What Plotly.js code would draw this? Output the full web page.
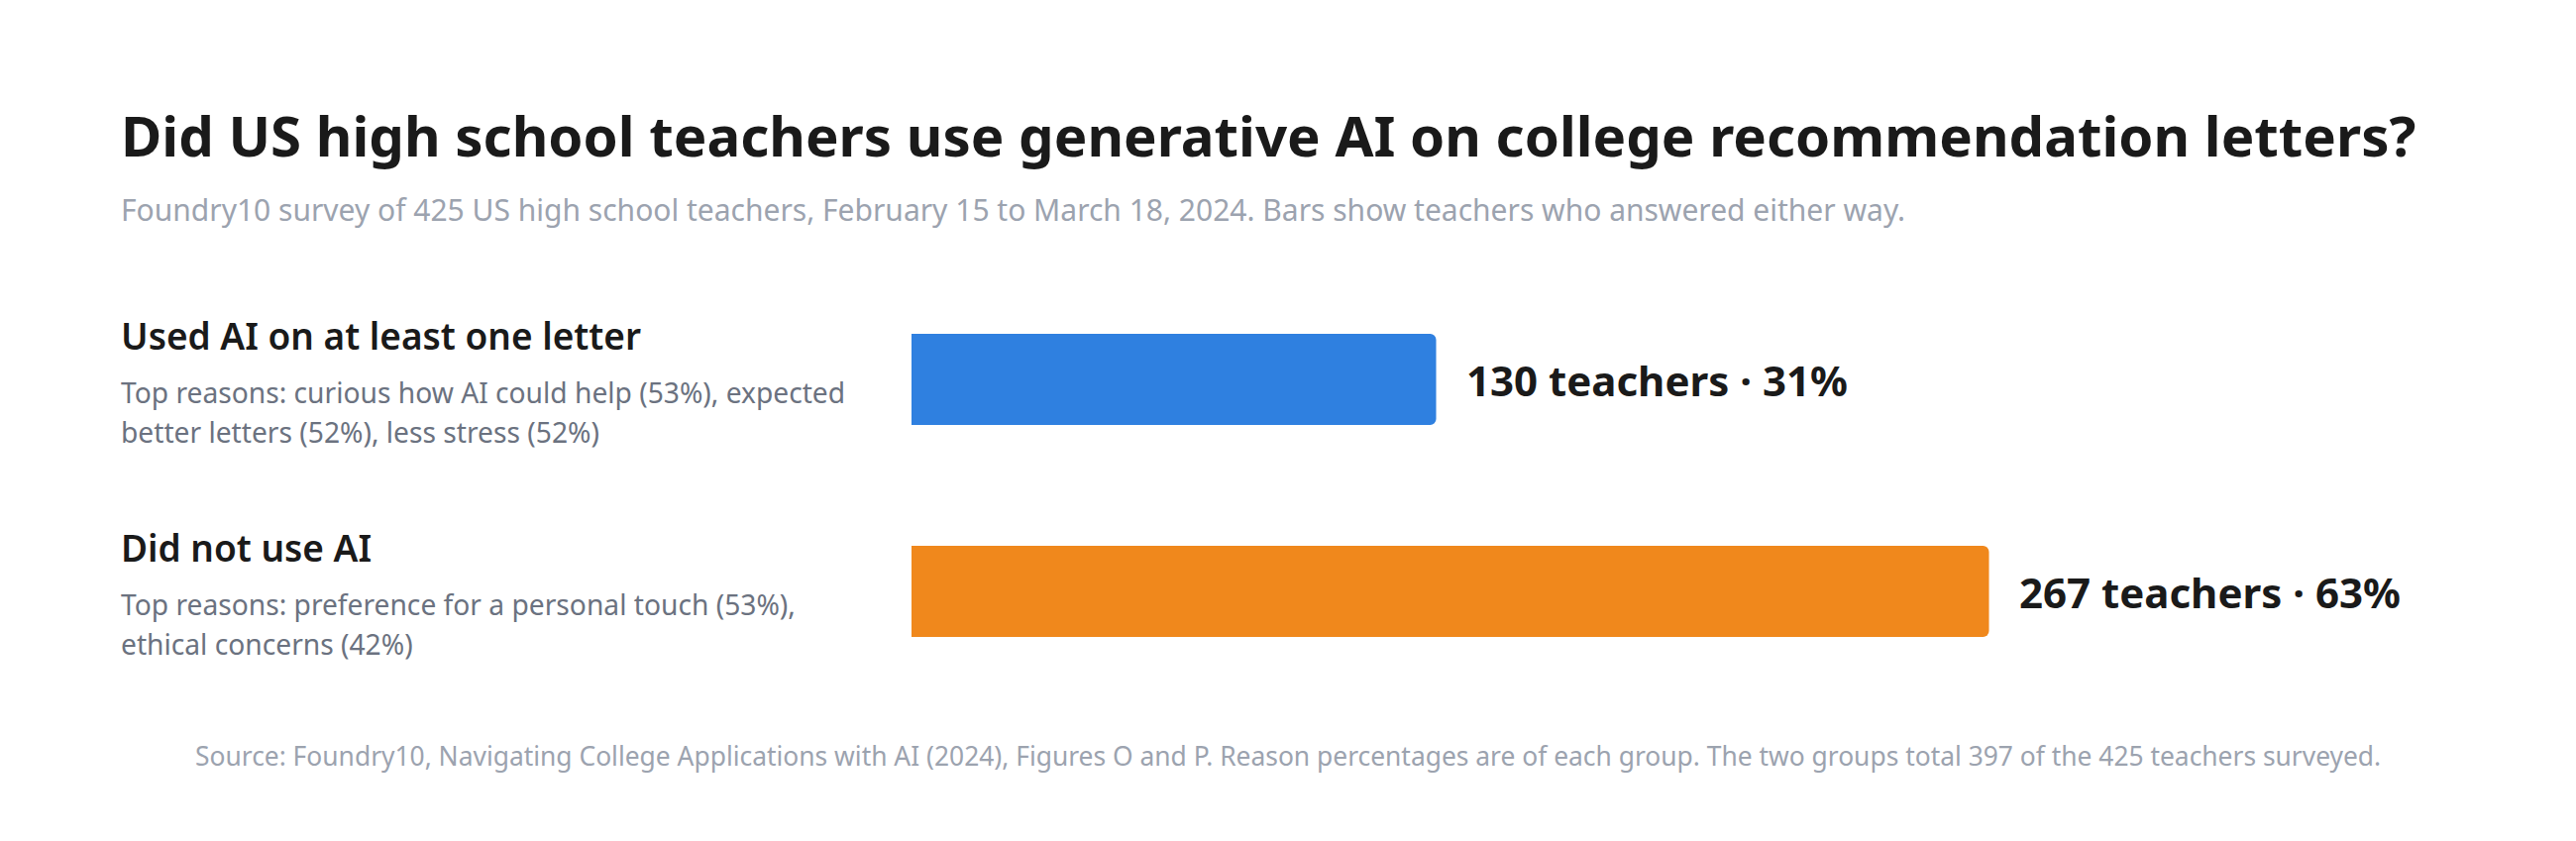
<!DOCTYPE html>
<html>
<head>
<meta charset="utf-8">
<script src="https://cdn.plot.ly/plotly-3.0.1.min.js"></script>
<style>
  html, body { margin: 0; padding: 0; background: #fff; }
  #main { width: 2600px; height: 849px; }
</style>
</head>
<body>
<div id="main"></div>
<script>
// data
const categories = ['Used AI on at least one letter', 'Did not use AI']
const teachers = [130, 267]
const shares = [31, 63]
const reasons = [
  ['Top reasons: curious how AI could help (53%), expected', 'better letters (52%), less stress (52%)'],
  ['Top reasons: preference for a personal touch (53%),', 'ethical concerns (42%)'],
]
const barColors = ['#2F80E0', '#F0881C']

const titleText = 'Did US high school teachers use generative AI on college recommendation letters?'
const subtitleText = 'Foundry10 survey of 425 US high school teachers, February 15 to March 18, 2024. Bars show teachers who answered either way.'
const sourceText = 'Source: Foundry10, Navigating College Applications with AI (2024), Figures O and P. Reason percentages are of each group. The two groups total 397 of the 425 teachers surveyed.'

const FONT = '"Noto Sans", "Open Sans", sans-serif'
const W = 2600, H = 849
const M = { l: 920, r: 120, t: 276, b: 145 }
const plotW = W - M.l - M.r
const plotH = H - M.t - M.b
// page pixel -> paper coords
const px = v => (v - M.l) / plotW
const py = v => (H - M.b - v) / plotH

const trace = {
  type: 'bar',
  orientation: 'h',
  y: categories,
  x: teachers,
  marker: { color: barColors },
  hoverinfo: 'none',
}

const annotations = []
const textLeft = 120

annotations.push({
  xref: 'paper', yref: 'paper', x: px(textLeft), y: py(136),
  xanchor: 'left', yanchor: 'middle', showarrow: false,
  text: '<b>' + titleText + '</b>',
  font: { family: FONT, size: 56.4, color: '#1a1a1a' },
})
annotations.push({
  xref: 'paper', yref: 'paper', x: px(textLeft), y: py(211),
  xanchor: 'left', yanchor: 'middle', showarrow: false,
  text: subtitleText,
  font: { family: FONT, size: 30, color: '#9ca3af' },
})

categories.forEach((cat, i) => {
  annotations.push({
    xref: 'paper', yref: 'y', x: px(textLeft), y: cat, yshift: 45,
    xanchor: 'left', yanchor: 'middle', showarrow: false,
    text: cat,
    font: { family: FONT, size: 37, weight: 600, color: '#1a1a1a' },
  })
  reasons[i].forEach((line, j) => {
    annotations.push({
      xref: 'paper', yref: 'y', x: px(textLeft), y: cat, yshift: -13 - j * 40,
      xanchor: 'left', yanchor: 'middle', showarrow: false,
      text: line,
      font: { family: FONT, size: 28.2, color: '#6b7280' },
    })
  })
  annotations.push({
    xref: 'x', yref: 'y', x: teachers[i], y: cat, xshift: 28,
    xanchor: 'left', yanchor: 'middle', showarrow: false,
    text: '<b>' + teachers[i] + ' teachers · ' + shares[i] + '%</b>',
    font: { family: FONT, size: 42, color: '#1a1a1a' },
  })
})

annotations.push({
  xref: 'paper', yref: 'paper', x: px(W / 2), y: py(763),
  xanchor: 'center', yanchor: 'middle', showarrow: false,
  text: sourceText,
  font: { family: FONT, size: 26.4, color: '#9ca3af' },
})

const layout = {
  width: W,
  height: H,
  margin: M,
  paper_bgcolor: '#ffffff',
  plot_bgcolor: '#ffffff',
  showlegend: false,
  bargap: 0.57,
  barcornerradius: 6,
  xaxis: { range: [0, 383], visible: false, fixedrange: true },
  yaxis: { type: 'category', range: [1.5, -0.5], visible: false, fixedrange: true },
  annotations: annotations,
}

Plotly.newPlot('main', [trace], layout, { displayModeBar: false, staticPlot: true })
</script>
</body>
</html>
